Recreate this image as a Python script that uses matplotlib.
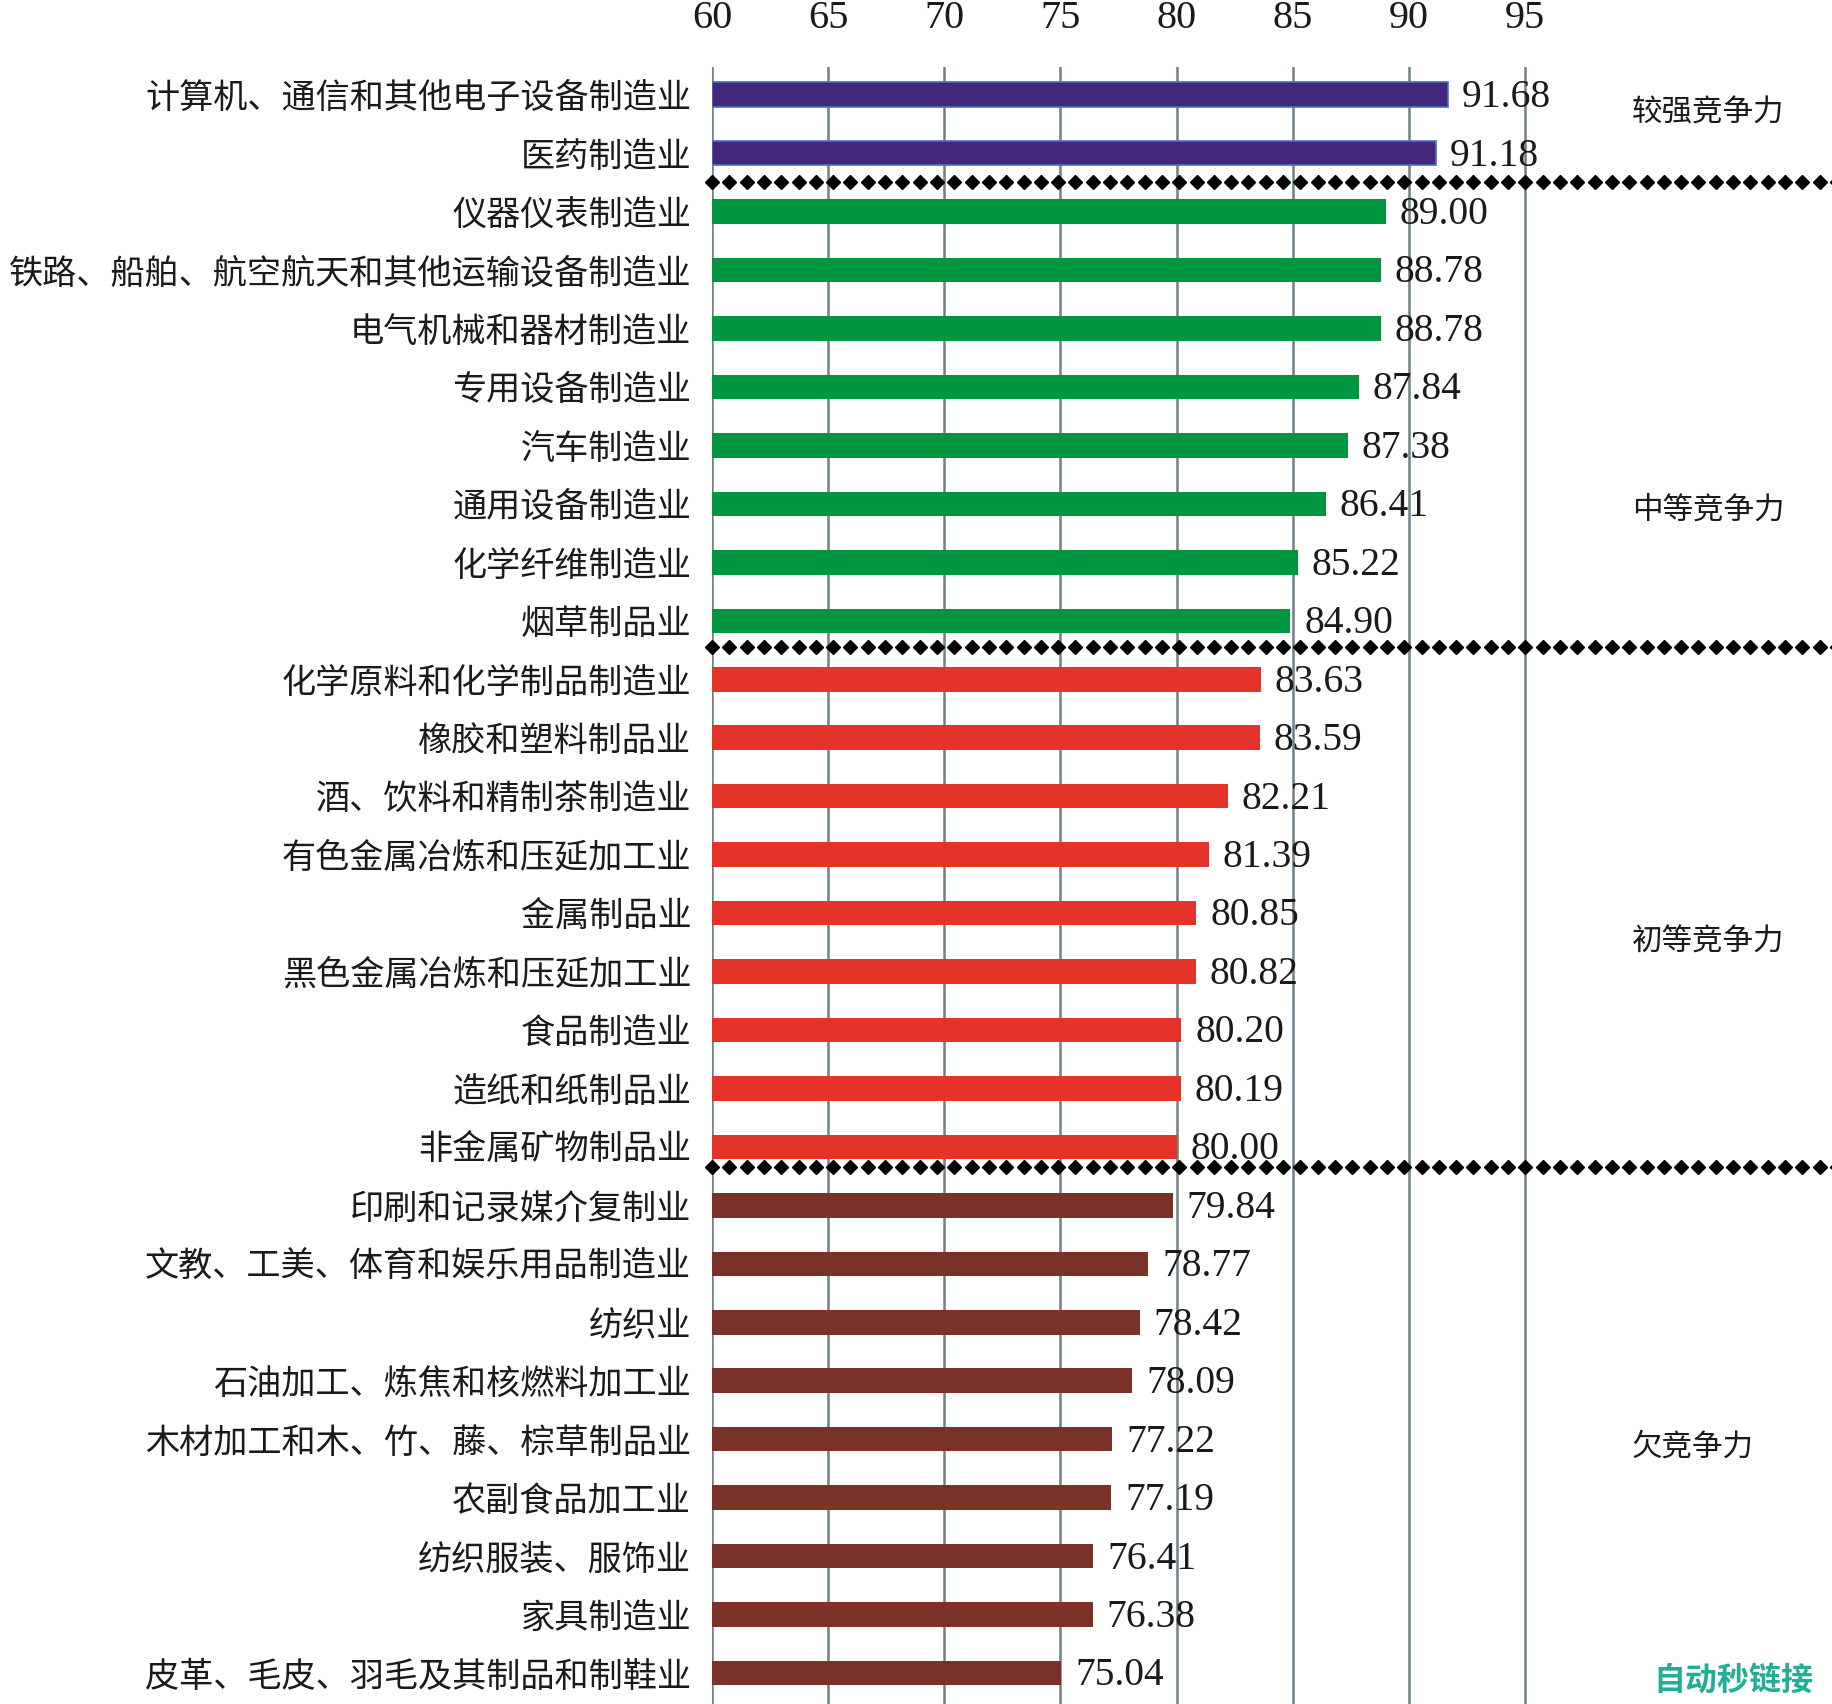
import numpy as np
import matplotlib
matplotlib.use("Agg")
from matplotlib import pyplot as plt

plt.rcParams['font.family'] = ['Noto Sans CJK SC', 'DejaVu Sans']

industries = ['计算机、通信和其他电子设备制造业', '医药制造业',
              '仪器仪表制造业', '铁路、船舶、航空航天和其他运输设备制造业',
              '电气机械和器材制造业', '专用设备制造业', '汽车制造业',
              '通用设备制造业', '化学纤维制造业', '烟草制品业',
              '化学原料和化学制品制造业', '橡胶和塑料制品业',
              '酒、饮料和精制茶制造业', '有色金属冶炼和压延加工业',
              '金属制品业', '黑色金属冶炼和压延加工业', '食品制造业',
              '造纸和纸制品业', '非金属矿物制品业',
              '印刷和记录媒介复制业', '文教、工美、体育和娱乐用品制造业',
              '纺织业', '石油加工、炼焦和核燃料加工业',
              '木材加工和木、竹、藤、棕草制品业', '农副食品加工业',
              '纺织服装、服饰业', '家具制造业',
              '皮革、毛皮、羽毛及其制品和制鞋业']
scores = [91.68, 91.18, 89.00, 88.78, 88.78, 87.84, 87.38, 86.41, 85.22,
          84.90, 83.63, 83.59, 82.21, 81.39, 80.85, 80.82, 80.20, 80.19,
          80.00, 79.84, 78.77, 78.42, 78.09, 77.22, 77.19, 76.41, 76.38,
          75.04]
group_names = ['较强竞争力', '中等竞争力', '初等竞争力', '欠竞争力']
group_sizes = [2, 8, 9, 9]
group_colors = ['#43277a', '#009640', '#e5332a', '#7a3128']
xticks = [60, 65, 70, 75, 80, 85, 90, 95]

W, H = 1832, 1704
fig = plt.figure(figsize=(W / 100, H / 100), dpi=100)
ax = fig.add_axes([712 / W, 0, 1 - 712 / W, 1 - 66.6 / H])

xmax = 60 + (W - 712) / 23.23
ax.set_xlim(60, xmax)
n = len(industries)
ax.set_ylim(n - 0.47, -0.48)

# vertical grid
for t in xticks:
    ax.axvline(t, color='#6e8088', lw=1.8, zorder=0)

colors = []
for c, s in zip(group_colors, group_sizes):
    colors += [c] * s
y = np.arange(n)
widths = np.array(scores) - 60
edges = ['#4a70c0' if c == group_colors[0] else 'none' for c in colors]
ax.barh(y, widths, left=60, height=0.42, color=colors, edgecolor=edges,
        linewidth=1.2, zorder=2)

for yi, v in zip(y, scores):
    ax.text(v + 0.6, yi + 0.05, f'{v:.2f}', va='center', ha='left',
            fontsize=28.5, family='Liberation Serif', color='#1a1a1a',
            zorder=3)

# dotted separators between groups
sep_y = [1.5, 9.45, 18.35]
xs = np.arange(60, xmax + 0.5, 0.745)
for sy in sep_y:
    ax.plot(xs, [sy] * len(xs), ls='none', marker='D', ms=7, color='black',
            zorder=4, clip_on=False)

# group labels
group_y = [0.32, 7.1, 14.5, 23.14]
for name, gy in zip(group_names, group_y):
    ax.text(99.6, gy, name, ha='left', va='center', fontsize=22,
            color='#1a1a1a')

ax.set_yticks(y)
ax.set_yticklabels(industries, fontsize=24.6, color='#1a1a1a')
ax.set_xticks(xticks)
ax.set_xticklabels([str(t) for t in xticks], fontsize=29,
                   family='Liberation Serif', color='#1a1a1a')
ax.xaxis.tick_top()
ax.tick_params(axis='x', length=0, pad=21)
ax.tick_params(axis='y', length=0, pad=15)
for sp in ax.spines.values():
    sp.set_visible(False)

fig.text(1653 / W, 1 - 1682 / H, '自动秒链接', ha='left', va='center',
         fontsize=23, weight='bold', color='#22ad98')

fig.savefig('out.png', dpi=100)
